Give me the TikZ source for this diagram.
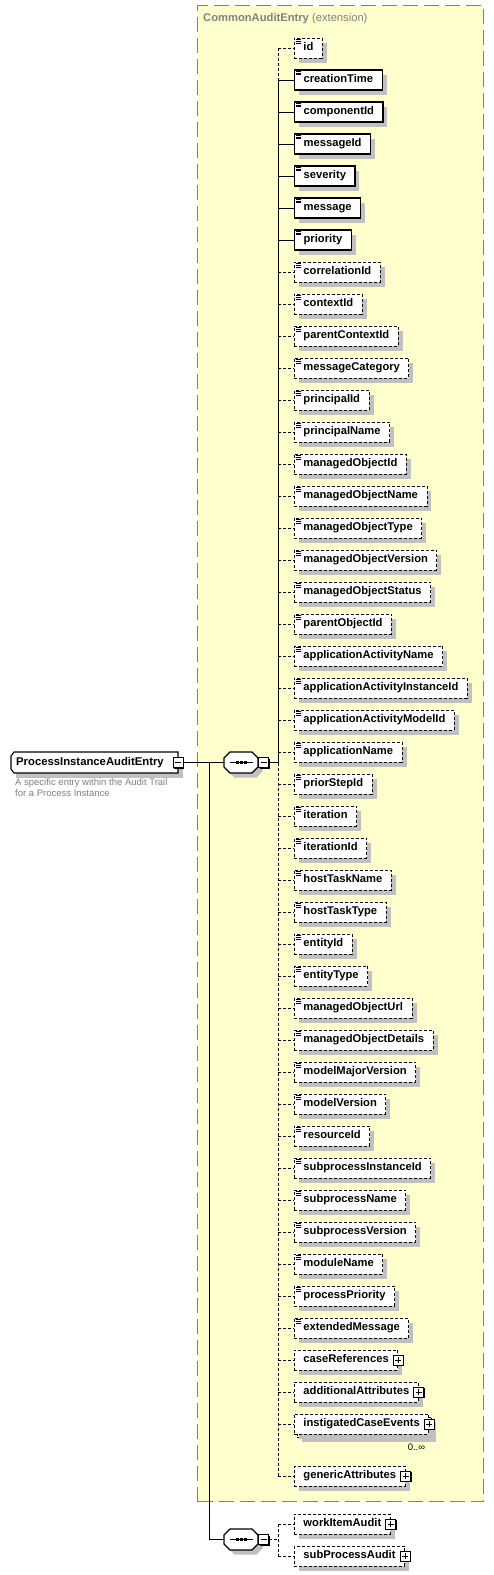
\documentclass[tikz,border=0pt]{standalone}
\usepackage{fontspec}
\setmainfont{Liberation Sans}
\usetikzlibrary{shadows}
\definecolor{cayel}{RGB}{255,255,206}
\definecolor{cagray}{RGB}{128,128,128}
\definecolor{shgray}{RGB}{192,192,192}
\tikzset{
  elfont/.style={font=\fontsize{11.2}{13}\selectfont\bfseries},
  shad/.style={drop shadow={shadow xshift=4.5pt, shadow yshift=-4.5pt, fill=shgray, opacity=1}},
  elbox/.style={draw, fill=white, anchor=west, minimum height=20pt, inner ysep=0pt,
    inner xsep=9pt, text height=8pt, text depth=2.5pt, elfont, shad},
  obox/.style={elbox, line width=0.9pt, dash pattern=on 3pt off 2pt},
  rbox/.style={elbox, line width=1.3pt},
  oline/.style={draw, line width=0.9pt, dash pattern=on 3pt off 2pt},
  rline/.style={draw, line width=0.9pt},
  iconline/.style={line width=0.6pt},
  pmbase/.style={draw, fill=white, minimum size=10pt, inner sep=0pt, line width=0.9pt,
    drop shadow={shadow xshift=1pt, shadow yshift=-1pt, fill=black, opacity=1}},
  minusbox/.style={pmbase, path picture={\draw[line width=0.9pt]
      ([xshift=2pt]path picture bounding box.west) -- ([xshift=-2pt]path picture bounding box.east);}},
  plusbox/.style={pmbase, path picture={\draw[line width=0.9pt]
      ([xshift=2pt]path picture bounding box.west) -- ([xshift=-2pt]path picture bounding box.east)
      ([yshift=-2pt]path picture bounding box.north) -- ([yshift=2pt]path picture bounding box.south);}},
  shapeline/.style={draw=black, fill=white, line width=1.1pt},
  shapeshadow/.style={fill=shgray},
  hidden/.style={inner sep=0pt, minimum height=20pt},
  ybox/.style={draw=cagray, fill=cayel, line width=1.3pt, dash pattern=on 15pt off 6pt,
    anchor=north west, inner sep=0pt},
  note/.style={text=cagray, font=\fontsize{9.5}{11}\selectfont, align=left, inner sep=0pt},
}
\newcommand\octpath[5]{(#1+#5,#2) -- (#3-#5,#2) -- (#3,#2+#5) -- (#3,#4-#5) -- (#3-#5,#4)
  -- (#1+#5,#4) -- (#1,#4-#5) -- (#1,#2+#5) -- cycle}
\begin{document}
\begin{tikzpicture}[x=1pt,y=-1pt]
\useasboundingbox (0,0) rectangle (493,1575);
\fill[white] (0,0) rectangle (493,1575);

% extension box
\node[ybox, minimum width=286pt, minimum height=1496pt] (ext) at (197,5) {};
\node[anchor=west, inner sep=0pt, text=cagray] (title) at (203,19)
  {\fontsize{11.2}{13}\selectfont\bfseries CommonAuditEntry\mdseries\ (extension)};

% root
\path[shapeshadow] (15.5,756.5) -- (182.5,756.5) -- (182.5,777.5) -- (15.5,777.5) -- cycle;
\path[shapeline] (14,752) -- (178,752) -- (178,773) -- (14,773) -- (11,769) -- (11,756) -- cycle;
\node[hidden, anchor=west, text height=8pt, text depth=2.5pt,
  font=\fontsize{11.3}{13}\selectfont\bfseries, minimum width=167pt, text width=157pt]
  (root) at (11,762.5) {ProcessInstanceAuditEntry};
\node[minusbox] (rm) at (root.east) {};
\node[note, anchor=north west] (desc) at (15,778.5)
  {A specific entry within the Audit Trail\\for a Process Instance};

% sequences
\path[shapeshadow, shift={(4.5,4.5)}] \octpath{224}{752}{258}{773}{6};
\path[shapeline] \octpath{224}{752}{258}{773}{6};
\node[hidden, minimum width=34pt] (s1) at (241,762.5) {};
\draw[line width=0.9pt] ([xshift=-11.5pt]s1.center) -- ([xshift=11.5pt]s1.center);
\foreach \dx in {-4,0,4} \fill ([xshift=\dx pt]s1.center) +(-1.5pt,-1.5pt) rectangle +(1.5pt,1.5pt);
\node[minusbox] (m1) at (263.5,762.5) {};

\path[shapeshadow, shift={(4.5,4.5)}] \octpath{224}{1529}{258}{1550}{6};
\path[shapeline] \octpath{224}{1529}{258}{1550}{6};
\node[hidden, minimum width=34pt] (s2) at (241,1539.5) {};
\draw[line width=0.9pt] ([xshift=-11.5pt]s2.center) -- ([xshift=11.5pt]s2.center);
\foreach \dx in {-4,0,4} \fill ([xshift=\dx pt]s2.center) +(-1.5pt,-1.5pt) rectangle +(1.5pt,1.5pt);
\node[minusbox] (m2) at (263.5,1539.5) {};

% root connectors
\coordinate (j1) at (209,762.5);
\draw[rline] (rm.east) -- (s1.west);
\draw[rline] (j1) |- (s2.west);

% simple elements
\foreach \n/\t [count=\i] in {id/o, creationTime/r, componentId/r, messageId/r, severity/r,
  message/r, priority/r, correlationId/o, contextId/o, parentContextId/o, messageCategory/o,
  principalId/o, principalName/o, managedObjectId/o, managedObjectName/o, managedObjectType/o,
  managedObjectVersion/o, managedObjectStatus/o, parentObjectId/o, applicationActivityName/o,
  applicationActivityInstanceId/o, applicationActivityModelId/o, applicationName/o,
  priorStepId/o, iteration/o, iterationId/o, hostTaskName/o, hostTaskType/o, entityId/o,
  entityType/o, managedObjectUrl/o, managedObjectDetails/o, modelMajorVersion/o,
  modelVersion/o, resourceId/o, subprocessInstanceId/o, subprocessName/o,
  subprocessVersion/o, moduleName/o, processPriority/o, extendedMessage/o} {
  \pgfmathsetmacro\yy{48+32*(\i-1)}
  \node[\t box] (e\i) at (294,\yy) {\n};
  \foreach \k in {2,3.7,5.4}
    \draw[iconline] ([shift={(1.5pt,-\k pt)}]e\i.north west) -- ++(5,0);
  \coordinate (b\i) at (278,\yy);
  \draw[\t line] (b\i) -- (e\i.west);
}

% complex elements
\node[obox] (e42) at (294,1360) {caseReferences\hspace{3pt}};
\node[obox] (e43) at (294,1392) {additionalAttributes\hspace{3pt}};
\node[obox] (e44b) at (297,1427) {\phantom{instigatedCaseEvents}\hspace{3pt}};
\node[obox] (e44) at (294,1424) {instigatedCaseEvents\hspace{3pt}};
\node[obox] (e45) at (294,1476) {genericAttributes\hspace{3pt}};
\foreach \i in {42,43,44,45} \node[plusbox] (p\i) at (e\i.east) {};
\node[anchor=north east, inner sep=0pt, font=\fontsize{9.5}{11}\selectfont] (mult)
  at ([shift={(-7pt,-6pt)}]e44b.south east) {0..∞};
\coordinate (b42) at (278,1360);
\coordinate (b43) at (278,1392);
\coordinate (b44) at (278,1424);
\coordinate (b45) at (278,1476);
\foreach \i in {42,43,44,45} \draw[oline] (b\i) -- (e\i.west);

% main bus
\coordinate (bus1) at (278,762.5);
\draw[rline] (m1.east) -- (bus1);
\draw[oline] (b1) -- (b2);
\draw[rline] (b2) -- (bus1);
\draw[oline] (bus1) -- (b45);

% second group
\node[obox] (wia) at (294,1524) {workItemAudit\hspace{3pt}};
\node[obox] (spa) at (294,1556) {subProcessAudit\hspace{3pt}};
\node[plusbox] (pw) at (wia.east) {};
\node[plusbox] (ps) at (spa.east) {};
\coordinate (bus2) at (278,1539.5);
\coordinate (c1) at (278,1524);
\coordinate (c2) at (278,1556);
\draw[oline] (m2.east) -- (bus2);
\draw[oline] (c1) -- (c2);
\draw[oline] (c1) -- (wia.west);
\draw[oline] (c2) -- (spa.west);
\end{tikzpicture}
\end{document}
